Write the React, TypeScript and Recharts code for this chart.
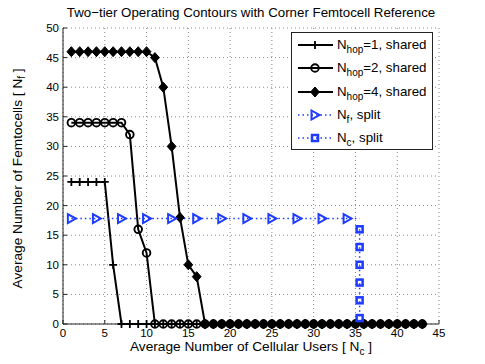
import { LineChart, Line, XAxis, YAxis, CartesianGrid } from "recharts";

// average number of cellular users (x) for the shared-spectrum contours
const cellularUsers = [
  1, 2, 3, 4, 5, 6, 7, 8, 9, 10, 11, 12, 13, 14, 15, 16, 17, 18, 19, 20, 21, 22,
  23, 24, 25, 26, 27, 28, 29, 30, 31, 32, 33, 34, 35, 36, 37, 38, 39, 40, 41, 42, 43,
];
const nhop1Shared = [
  24, 24, 24, 24, 24, 10, 0, 0, 0, 0, 0, 0, 0, 0, 0, 0, 0, 0, 0, 0, 0, 0,
  0, 0, 0, 0, 0, 0, 0, 0, 0, 0, 0, 0, 0, 0, 0, 0, 0, 0, 0, 0, 0,
];
const nhop2Shared = [
  34, 34, 34, 34, 34, 34, 34, 32, 16, 12, 0, 0, 0, 0, 0, 0, 0, 0, 0, 0, 0, 0,
  0, 0, 0, 0, 0, 0, 0, 0, 0, 0, 0, 0, 0, 0, 0, 0, 0, 0, 0, 0, 0,
];
const nhop4Shared = [
  46, 46, 46, 46, 46, 46, 46, 46, 46, 46, 45, 40, 30, 18, 10, 8, 0, 0, 0, 0, 0, 0,
  0, 0, 0, 0, 0, 0, 0, 0, 0, 0, 0, 0, 0, 0, 0, 0, 0, 0, 0, 0, 0,
];

// split-spectrum reference
const femtoSplitX = [1, 4, 7, 10, 13, 16, 19, 22, 25, 28, 31, 34, 35.5];
const femtoSplitY = [17.8, 17.8, 17.8, 17.8, 17.8, 17.8, 17.8, 17.8, 17.8, 17.8, 17.8, 17.8, 17.8];
const cellSplitX = [35.5, 35.5, 35.5, 35.5, 35.5, 35.5];
const cellSplitY = [16, 13, 10, 7, 4, 1];

const xTicks = [0, 5, 10, 15, 20, 25, 30, 35, 40, 45];
const yTicks = [0, 5, 10, 15, 20, 25, 30, 35, 40, 45, 50];

const toPoints = (xs: number[], ys: number[]) => xs.map((x, i) => ({ x, y: ys[i] }));

const FONT = "'Liberation Sans', Arial, Helvetica, sans-serif";
const BLUE = "#1f3bff";

const plusDot = (p: any) => {
  const { cx, cy, index } = p;
  return (
    <path
      key={`p${index}`}
      d={`M${cx - 4},${cy}H${cx + 4}M${cx},${cy - 4}V${cy + 4}`}
      stroke="#000"
      strokeWidth={1.8}
      fill="none"
    />
  );
};

const circleDot = (p: any) => {
  const { cx, cy, index } = p;
  return <circle key={`c${index}`} cx={cx} cy={cy} r={3.8} stroke="#000" strokeWidth={1.9} fill="none" />;
};

const diamondDot = (p: any) => {
  const { cx, cy, index } = p;
  return (
    <path
      key={`d${index}`}
      d={`M${cx},${cy - 5}L${cx + 4.4},${cy}L${cx},${cy + 5}L${cx - 4.4},${cy}Z`}
      stroke="#000"
      strokeWidth={1}
      fill="#000"
    />
  );
};

const triangleDot = (p: any) => {
  const { cx, cy, index } = p;
  if (index === femtoSplitX.length - 1) return <g key={`t${index}`} />;
  return (
    <path
      key={`t${index}`}
      d={`M${cx - 3.5},${cy - 4.5}L${cx + 4.5},${cy}L${cx - 3.5},${cy + 4.5}Z`}
      stroke={BLUE}
      strokeWidth={2}
      fill="none"
    />
  );
};

const squareDot = (p: any) => {
  const { cx, cy, index } = p;
  return (
    <rect key={`s${index}`} x={cx - 3} y={cy - 3} width={6} height={6} stroke={BLUE} strokeWidth={2.5} fill="none" />
  );
};

const legendRows = [
  { sub: "hop", tail: "=1, shared", kind: "plus" },
  { sub: "hop", tail: "=2, shared", kind: "circle" },
  { sub: "hop", tail: "=4, shared", kind: "diamond" },
  { sub: "f", tail: ", split", kind: "triangle" },
  { sub: "c", tail: ", split", kind: "square" },
];

function LegendSample({ kind }: { kind: string }) {
  const blue = kind === "triangle" || kind === "square";
  const cx = 18;
  const cy = 6;
  let marker = null;
  if (kind === "plus") marker = plusDot({ cx, cy, index: 0 });
  if (kind === "circle") marker = circleDot({ cx, cy, index: 0 });
  if (kind === "diamond") marker = diamondDot({ cx, cy, index: 0 });
  if (kind === "triangle") marker = triangleDot({ cx, cy, index: 0 });
  if (kind === "square") marker = squareDot({ cx, cy, index: 0 });
  return (
    <svg width={37} height={12} style={{ display: "block" }}>
      <line
        x1={1}
        x2={36}
        y1={cy}
        y2={cy}
        stroke={blue ? BLUE : "#000"}
        strokeWidth={blue ? 1.5 : 2}
        strokeDasharray={blue ? "1.5 3" : undefined}
      />
      {marker}
    </svg>
  );
}

export default function App() {
  return (
    <div style={{ position: "absolute", left: 0, top: 0, width: 485, height: 364, background: "#fff", fontFamily: FONT }}>
      <LineChart
        width={485}
        height={364}
        margin={{ top: 28, right: 46, bottom: 10, left: 23 }}
        style={{ fontFamily: FONT }}
      >
        <CartesianGrid stroke="#888" strokeDasharray="1 3" />
        <XAxis
          type="number"
          dataKey="x"
          domain={[0, 45]}
          ticks={xTicks}
          interval={0}
          height={30}
          tickSize={-4}
          tickMargin={9}
          axisLine={{ stroke: "#222" }}
          tickLine={{ stroke: "#222" }}
          tick={{ fill: "#000", fontSize: 11.5 }}
          allowDataOverflow
        />
        <XAxis
          xAxisId="top"
          orientation="top"
          type="number"
          dataKey="x"
          domain={[0, 45]}
          ticks={xTicks}
          height={0}
          tickSize={-4}
          tick={false}
          axisLine={{ stroke: "#222" }}
          tickLine={{ stroke: "#222" }}
        />
        <YAxis
          type="number"
          dataKey="y"
          domain={[0, 50]}
          ticks={yTicks}
          interval={0}
          width={40}
          tickSize={-4}
          tickMargin={8}
          axisLine={{ stroke: "#222" }}
          tickLine={{ stroke: "#222" }}
          tick={{ fill: "#000", fontSize: 11.5 }}
        />
        <YAxis
          yAxisId="right"
          orientation="right"
          type="number"
          domain={[0, 50]}
          ticks={yTicks}
          width={0}
          tickSize={-4}
          tick={false}
          axisLine={{ stroke: "#222" }}
          tickLine={{ stroke: "#222" }}
        />
        <Line
          data={toPoints(cellularUsers, nhop1Shared)}
          dataKey="y"
          type="linear"
          stroke="#000"
          strokeWidth={2}
          dot={plusDot}
          isAnimationActive={false}
        />
        <Line
          data={toPoints(cellularUsers, nhop2Shared)}
          dataKey="y"
          type="linear"
          stroke="#000"
          strokeWidth={2}
          dot={circleDot}
          isAnimationActive={false}
        />
        <Line
          data={toPoints(cellularUsers, nhop4Shared)}
          dataKey="y"
          type="linear"
          stroke="#000"
          strokeWidth={2}
          dot={diamondDot}
          isAnimationActive={false}
        />
        <Line
          data={toPoints(femtoSplitX, femtoSplitY)}
          dataKey="y"
          type="linear"
          stroke={BLUE}
          strokeWidth={1.5}
          strokeDasharray="1.5 3"
          dot={triangleDot}
          isAnimationActive={false}
        />
        <Line
          data={toPoints(cellSplitX, cellSplitY)}
          dataKey="y"
          type="linear"
          stroke={BLUE}
          strokeWidth={1.5}
          strokeDasharray="1.5 3"
          dot={squareDot}
          isAnimationActive={false}
        />
      </LineChart>

      <div
        style={{
          position: "absolute",
          left: 63,
          width: 376,
          top: 5,
          textAlign: "center",
          fontSize: 13.3,
          lineHeight: "16px",
          color: "#000",
          whiteSpace: "nowrap",
        }}
      >
        Two−tier Operating Contours with Corner Femtocell Reference
      </div>

      <div
        style={{
          position: "absolute",
          left: 63,
          width: 376,
          top: 338,
          textAlign: "center",
          fontSize: 13.7,
          lineHeight: "18px",
          color: "#000",
          whiteSpace: "nowrap",
        }}
      >
        Average Number of Cellular Users [ N<sub style={{ fontSize: 10 }}>c</sub> ]
      </div>

      <div
        style={{
          position: "absolute",
          left: 20 - 148,
          width: 296,
          top: 176 - 9,
          textAlign: "center",
          fontSize: 13.7,
          lineHeight: "18px",
          color: "#000",
          whiteSpace: "nowrap",
          transform: "rotate(-90deg)",
        }}
      >
        Average Number of Femtocells [ N<sub style={{ fontSize: 10 }}>f</sub> ]
      </div>

      <div
        style={{
          position: "absolute",
          left: 291,
          top: 32,
          width: 142,
          height: 118,
          border: "1px solid #222",
          background: "#fff",
          boxSizing: "border-box",
        }}
      >
        {legendRows.map((row, i) => (
          <div
            key={i}
            style={{
              position: "absolute",
              left: 5,
              top: 3 + i * 23.3,
              height: 18,
              display: "flex",
              alignItems: "center",
              fontSize: 13.3,
              color: "#000",
              whiteSpace: "nowrap",
            }}
          >
            <LegendSample kind={row.kind} />
            <span style={{ marginLeft: 3, lineHeight: "16px" }}>
              N<sub style={{ fontSize: 10, lineHeight: 0 }}>{row.sub}</sub>
              {row.tail}
            </span>
          </div>
        ))}
      </div>
    </div>
  );
}
